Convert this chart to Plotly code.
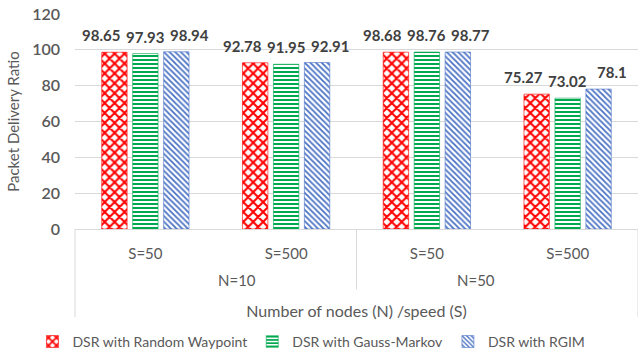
import plotly.graph_objects as go

# Packet delivery ratio of DSR under three mobility models
node_groups = ["N=10", "N=50"]
nodes = ["N=10", "N=10", "N=50", "N=50"]
speeds = ["S=50", "S=500", "S=50", "S=500"]
random_waypoint = [98.65, 92.78, 98.68, 75.27]
gauss_markov = [97.93, 91.95, 98.76, 73.02]
rgim = [98.94, 92.91, 98.77, 78.1]
y_ticks = [0, 20, 40, 60, 80, 100, 120]

categories = [f"{n} {s}" for n, s in zip(nodes, speeds)]

series = [
    ("DSR with Random Waypoint", random_waypoint, "#ff0000", "x", 7, 0.5),
    ("DSR with Gauss-Markov", gauss_markov, "#00a84f", "-", 4, 0.5),
    ("DSR with RGIM", rgim, "#4a72c4", "\\", 4, 0.45),
]

FONT = "Lato, 'Open Sans', sans-serif"
GREY = "#595959"
DARK = "#404040"
LINE = "#d9d9d9"

W, H = 638, 358
M = dict(l=75, r=0, t=14, b=127)
BARGAP, GROUPGAP = 0.34, 0.18
plot_w = W - M["l"] - M["r"]
plot_h = H - M["t"] - M["b"]

fig = go.Figure()
for name, vals, color, shape, size, solidity in series:
    fig.add_trace(go.Bar(
        name=name,
        x=categories,
        y=vals,
        cliponaxis=False,
        marker=dict(
            color="white",
            line=dict(color=color, width=0.6),
            pattern=dict(shape=shape, fgcolor=color, bgcolor="white",
                         size=size, solidity=solidity, fillmode="replace"),
        ),
    ))

# value labels, fanned out sideways a little so neighbours do not collide
cat_px = plot_w / len(categories)
slot_px = cat_px * (1 - BARGAP) / len(series)
for i, (name, vals, *_rest) in enumerate(series):
    dx = (i - (len(series) - 1) / 2) * (slot_px + 13)
    for c, v in zip(categories, vals):
        fig.add_annotation(x=c, y=v, xref="x", yref="y", text=f"<b>{v}</b>",
                           showarrow=False, yanchor="bottom", xshift=dx, yshift=6,
                           font=dict(family=FONT, size=15, color=DARK))

# outer level of the category axis: node counts under each pair of speeds
def below(px):
    return -px / plot_h

idx_of = {}
for i, n in enumerate(nodes):
    idx_of.setdefault(n, []).append(i)
for n in node_groups:
    idx = idx_of[n]
    fig.add_annotation(x=(sum(idx) / len(idx) + 0.5) / len(nodes), y=below(51),
                       xref="paper", yref="paper", text=n, showarrow=False,
                       yanchor="middle", font=dict(family=FONT, size=15, color=GREY))

# dividers under the axis: outer edges run down past the axis title
edges = [0.0]
for n in node_groups:
    edges.append(edges[-1] + len(idx_of[n]) / len(nodes))
for k, e in enumerate(edges):
    inner = 0 < k < len(edges) - 1
    fig.add_shape(type="line", x0=e, x1=e, y0=0, y1=below(61 if inner else 89),
                  xref="paper", yref="paper", line=dict(color=LINE, width=1))

fig.update_layout(
    width=W, height=H, margin=M,
    paper_bgcolor="white", plot_bgcolor="white",
    barmode="group", bargap=BARGAP, bargroupgap=GROUPGAP,
    font=dict(family=FONT, color=GREY),
    showlegend=True,
    legend=dict(orientation="h", x=0.42, xanchor="center",
                y=below(114), yanchor="middle",
                font=dict(size=14, color=GREY), itemwidth=30,
                traceorder="normal"),
)
fig.update_yaxes(
    range=[0, 120], tickvals=y_ticks, automargin=False,
    showgrid=True, gridcolor=LINE, gridwidth=1,
    zeroline=False, showline=False,
    tickfont=dict(size=16, color=GREY, weight=600),
    ticklabelstandoff=14,
    title=dict(text="Packet Delivery Ratio", font=dict(size=15, color=GREY), standoff=8),
)
fig.update_xaxes(
    type="category", range=[-0.5, len(categories) - 0.5], automargin=False,
    tickvals=categories, ticktext=speeds,
    showline=True, linecolor=LINE, linewidth=1,
    showgrid=False, ticks="",
    tickfont=dict(size=15, color=GREY),
    ticklabelstandoff=11,
    title=dict(text="Number of nodes (N) /speed (S)", font=dict(size=16, color=GREY), standoff=44),
)

fig.write_html("out.html")
